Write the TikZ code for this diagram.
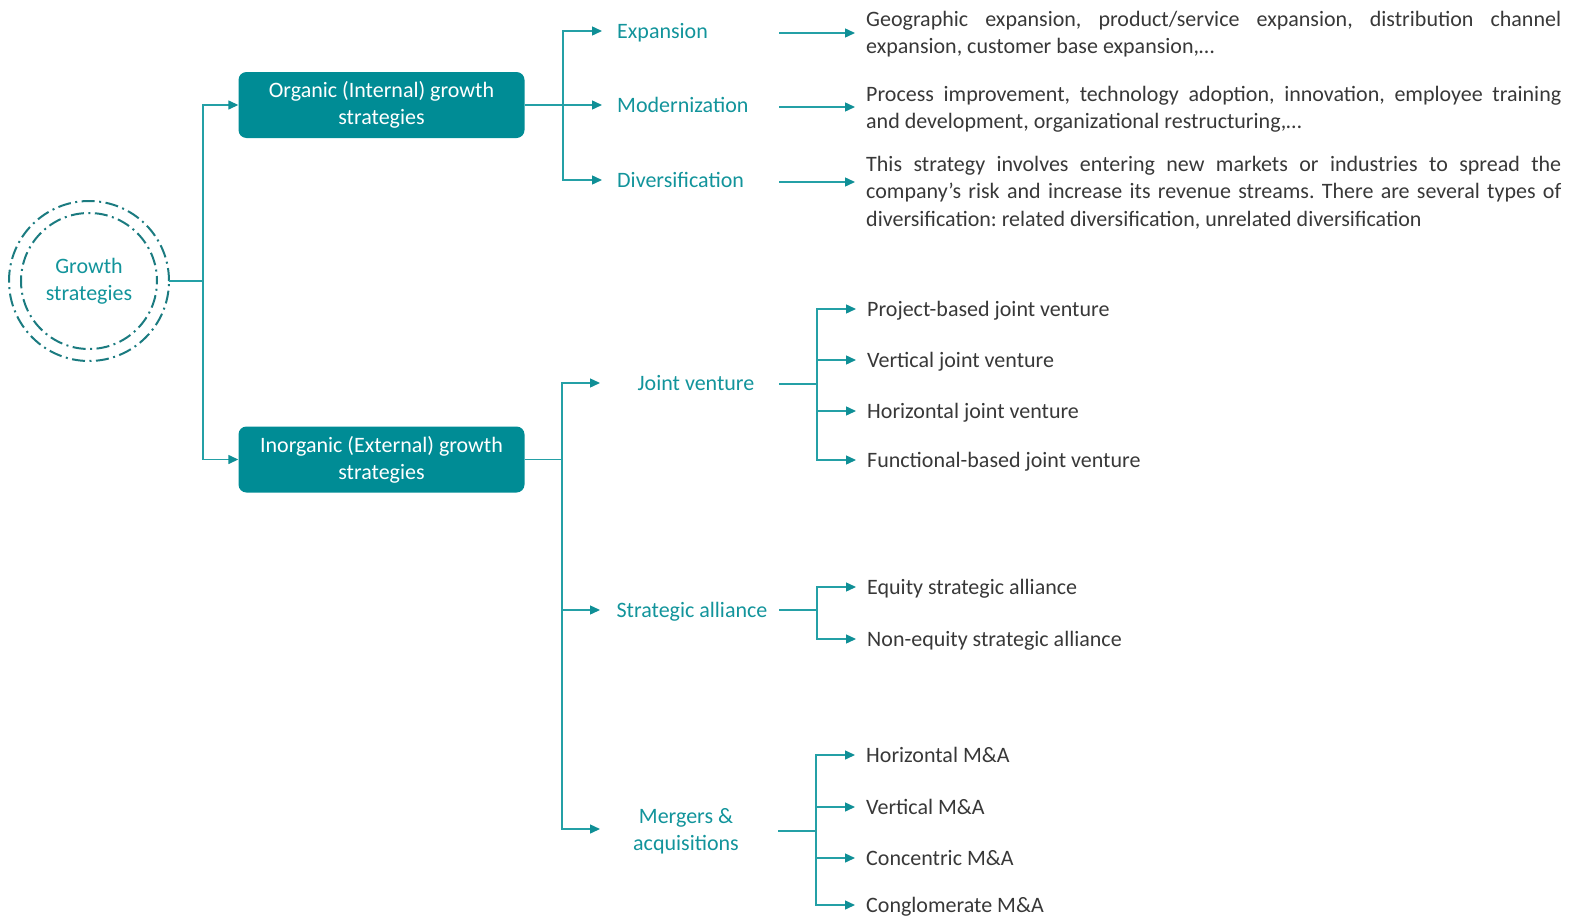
\documentclass[tikz,border=0pt]{standalone}
\usepackage{fontspec}
\setmainfont{Carlito}
\usetikzlibrary{arrows.meta}
\definecolor{boxC}{HTML}{008C95}
\definecolor{lineC}{HTML}{24A0A6}
\definecolor{tipC}{HTML}{0F8F96}
\definecolor{labC}{HTML}{12949B}
\definecolor{txtC}{HTML}{383838}
\definecolor{circC}{HTML}{1B7B80}
\newcommand\fsz{\fontsize{22}{27.3}\selectfont\frenchspacing}
\tikzset{
  conn/.style={draw=lineC, line width=1.4pt},
  arr/.style={conn, -{Triangle[length=10pt,width=9pt,color=tipC]}},
  lblml/.style={text=labC, font=\fsz, inner sep=0pt, align=center},
  lbl/.style={lblml, text height=18pt, text depth=3pt},
  item/.style={text=txtC, font=\fsz, inner sep=0pt, anchor=west, text height=18pt, text depth=3pt},
  desc/.style={text=txtC, font=\fsz, inner sep=0pt, anchor=north west, text width=695pt, align=justify},
  bigbox/.style={fill=boxC, rounded corners=8pt, text=white, font=\fsz, align=center, minimum width=286pt, minimum height=66pt, inner sep=0pt},
  ring/.style={draw=circC, line width=2pt, dash pattern=on 13pt off 4.5pt on 2pt off 4.5pt},
}
\begin{document}
\begin{tikzpicture}[x=1pt,y=-1pt]
\useasboundingbox (0,0) rectangle (1577,918);
% root
\node[lblml, minimum size=160pt, circle] (gs) at (89,281) {Growth\\strategies};
\draw[ring] (gs.center) circle[radius=80pt];
\draw[ring, dash phase=8pt] (gs.center) circle[radius=68pt];
% level 1
\node[bigbox] (org) at (381.5,105) {Organic (Internal) growth\\strategies};
\node[bigbox] (inorg) at (381.5,459.5) {Inorganic (External) growth\\strategies};
\coordinate (j1) at (203,281);
\draw[conn] (gs.east) -- (j1);
\draw[arr] (j1) |- (org.west);
\draw[arr] (j1) |- (inorg.west);
% level 2 organic
\node[lbl, anchor=west] (exp) at (617,31) {Expansion};
\node[lbl, anchor=west] (mod) at (617,105) {Modernization};
\node[lbl, anchor=west] (div) at (617,180) {Diversification};
\coordinate (j2) at (563,105);
\draw[conn] (org.east) -- (j2);
\draw[arr] (j2) |- ([xshift=-15pt]exp.west);
\draw[arr] (j2) -- ([xshift=-15pt]mod.west);
\draw[arr] (j2) |- ([xshift=-15pt]div.west);
% descriptions
\node[desc] (dexp) at (866,11) {Geographic expansion, product/service expansion, distribution channel\linebreak expansion, customer base expansion,…};
\node[desc] (dmod) at (866,86) {Process improvement, technology adoption, innovation, employee training\linebreak and development, organizational restructuring,…};
\node[desc] (ddiv) at (866,156) {This strategy involves entering new markets or industries to spread the\linebreak company's risk and increase its revenue streams. There are several types of\linebreak diversification: related diversification, unrelated diversification};
\coordinate (oexp) at (779,33);
\coordinate (omod) at (779,107);
\coordinate (odiv) at (779,182);
\draw[arr] (oexp) -- ([xshift=-11pt]dexp.west |- oexp);
\draw[arr] (omod) -- ([xshift=-11pt]dmod.west |- omod);
\draw[arr] (odiv) -- ([xshift=-11pt]ddiv.west |- odiv);
% level 2 inorganic
\node[lbl] (jv) at (696,383) {Joint venture};
\node[lbl] (sa) at (692,610) {Strategic alliance};
\node[lblml] (ma) at (686,831) {Mergers \&\\acquisitions};
\coordinate (j3) at (562,459.5);
\coordinate (tjv) at (600,383);
\coordinate (tsa) at (600,610);
\coordinate (tma) at (600,829);
\draw[conn] (inorg.east) -- (j3);
\draw[arr] (j3) |- (tjv);
\draw[arr] (j3) |- (tsa);
\draw[arr] (j3) |- (tma);
% joint venture items
\node[item] (jv1) at (867,309) {Project-based joint venture};
\node[item] (jv2) at (867,360) {Vertical joint venture};
\node[item] (jv3) at (867,411) {Horizontal joint venture};
\node[item] (jv4) at (867,460) {Functional-based joint venture};
\coordinate (ojv) at (779,384);
\coordinate (kjv) at (817,384);
\draw[conn] (ojv) -- (kjv);
\foreach \n in {jv1,jv2,jv3,jv4} \draw[arr] (kjv) |- ([xshift=-11pt]\n.west);
% strategic alliance items
\node[item] (sa1) at (867,587) {Equity strategic alliance};
\node[item] (sa2) at (867,639) {Non-equity strategic alliance};
\coordinate (osa) at (779,610);
\coordinate (ksa) at (817,610);
\draw[conn] (osa) -- (ksa);
\foreach \n in {sa1,sa2} \draw[arr] (ksa) |- ([xshift=-11pt]\n.west);
% M&A items
\node[item] (ma1) at (866,755) {Horizontal M\&A};
\node[item] (ma2) at (866,807) {Vertical M\&A};
\node[item] (ma3) at (866,858) {Concentric M\&A};
\node[item] (ma4) at (866,905) {Conglomerate M\&A};
\coordinate (oma) at (778,831);
\coordinate (kma) at (816,831);
\draw[conn] (oma) -- (kma);
\foreach \n in {ma1,ma2,ma3,ma4} \draw[arr] (kma) |- ([xshift=-11pt]\n.west);
\end{tikzpicture}
\end{document}
